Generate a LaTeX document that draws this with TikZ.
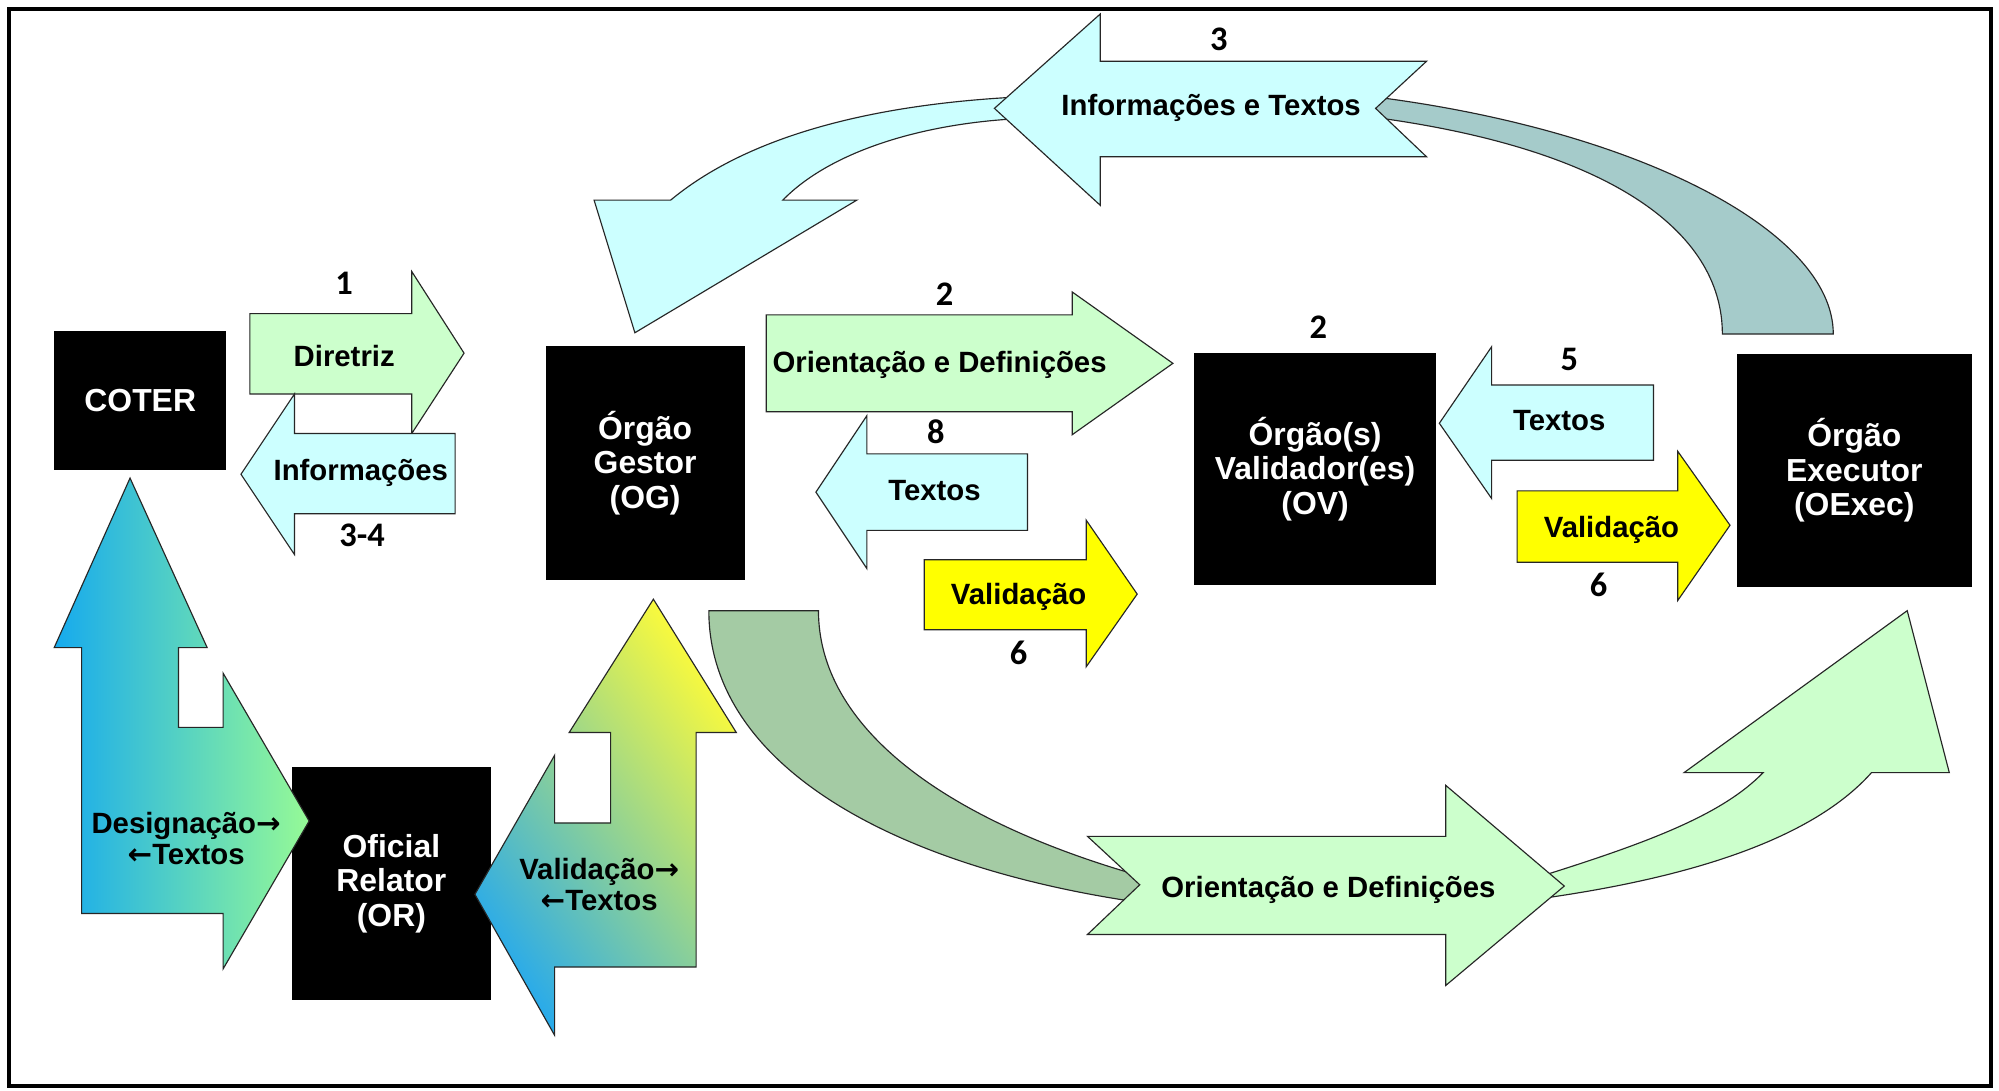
\documentclass[tikz,border=0pt]{standalone}
\usepackage{fontspec}
\setmainfont{Liberation Sans}
\newfontfamily\numfont{Carlito}
\newfontfamily\arrfont{DejaVu Sans}
\newcommand{\rarr}{{\arrfont\bfseries →}}
\newcommand{\larr}{{\arrfont\bfseries ←}}
\definecolor{lgreen}{HTML}{CCFFCC}
\definecolor{lcyan}{HTML}{CCFFFF}
\definecolor{yel}{HTML}{FFFF00}
\definecolor{tealband}{RGB}{165,203,202}
\definecolor{dgreen}{RGB}{164,203,164}
\definecolor{gblue}{RGB}{22,170,238}
\definecolor{ggreen}{RGB}{150,250,150}
\definecolor{vblue}{RGB}{40,170,235}
\definecolor{vyel}{RGB}{250,250,60}
\begin{document}
\begin{tikzpicture}[x=1pt,y=-1pt,
  every node/.style={inner sep=0pt, outer sep=0pt},
  blk/.style={fill=black, text=white, font=\bfseries\fontsize{25}{27}\selectfont, align=center},
  lbl/.style={font=\bfseries\fontsize{23}{24.5}\selectfont, align=center, text=black},
  num/.style={font=\numfont\bfseries\fontsize{27}{27}\selectfont},
  shp/.style={draw=black!85, line width=0.9pt, line join=miter}]
\useasboundingbox (0,0) rectangle (1568,855);
\fill[white] (0,0) rectangle (1568,855);

% ---------- black boxes ----------
\node[blk, minimum width=135pt, minimum height=109pt] (coter) at (110,314) {COTER};
\node[blk, minimum width=156pt, minimum height=184pt] (og) at (506,363) {Órgão\\Gestor\\(OG)};
\node[blk, minimum width=190pt, minimum height=182pt] (ov) at (1031.5,368) {Órgão(s)\\Validador(es)\\(OV)};
\node[blk, minimum width=184pt, minimum height=183pt] (oe) at (1454.5,369) {Órgão\\Executor\\(OExec)};
\node[blk, minimum width=156pt, minimum height=183pt] (or) at (307,693) {Oficial\\Relator\\(OR)};

% ---------- top curved arrow (3) ----------
\filldraw[shp, fill=lcyan] (526,157) .. controls (585,108) and (680,82) .. (800,76)
  -- (800,93) .. controls (720,97) and (650,120) .. (614,157)
  -- (672,157) -- (498,261) -- (466,157) -- cycle;
\filldraw[shp, fill=tealband] (1070,75) .. controls (1280,100) and (1438,180) .. (1438,262)
  -- (1351,262) .. controls (1351,180) and (1260,115) .. (1070,91) -- cycle;
\filldraw[shp, fill=lcyan] (780,85) -- (863,11) -- (863,48) -- (1119,48) -- (1079,85)
  -- (1119,123) -- (863,123) -- (863,161) -- cycle;
\node[lbl] (t3) at (950,85) {Informações e Textos};
\node[num] (n3) at (956,31) {3};

% ---------- bottom curved arrow ----------
\filldraw[shp, fill=dgreen] (556,479) -- (642,479)
  .. controls (642,570) and (740,645) .. (905,690)
  -- (895,708) .. controls (700,680) and (556,600) .. (556,479) -- cycle;
\filldraw[shp, fill=lgreen] (1200,690) .. controls (1290,662) and (1350,640) .. (1383,606)
  -- (1321,606) -- (1496,479) -- (1529,606) -- (1468,606)
  .. controls (1420,660) and (1320,690) .. (1200,706) -- cycle;
\filldraw[shp, fill=lgreen] (853,656) -- (1134,656) -- (1134,616) -- (1227,695)
  -- (1134,773) -- (1134,733) -- (853,733) -- (894,694) -- cycle;
\node[lbl] (tb) at (1042,698) {Orientação e Definições};

% ---------- COTER arrows ----------
\filldraw[shp, fill=lgreen] (196,246) -- (323,246) -- (323,213) -- (364,277)
  -- (323,340) -- (323,309) -- (196,309) -- cycle;
\filldraw[shp, fill=lcyan] (357,340) -- (231,340) -- (231,309) -- (189,372)
  -- (231,435) -- (231,403) -- (357,403) -- cycle;
\node[lbl] (tdir) at (270,279) {Diretriz};
\node[lbl] (tinf) at (283,371) {Informações};
\node[num] (n1) at (270,222) {1};
\node[num] (n34) at (284,420) {3-4};

% ---------- OG <-> OV arrows ----------
\filldraw[shp, fill=lgreen] (601,247) -- (841,247) -- (841,229) -- (920,285)
  -- (841,341) -- (841,323) -- (601,323) -- cycle;
\node[lbl] (tori) at (737,286) {Orientação e Definições};
\node[num] (n2a) at (741,231) {2};
\filldraw[shp, fill=lcyan] (806,356) -- (680,356) -- (680,326) -- (640,386)
  -- (680,446) -- (680,416) -- (806,416) -- cycle;
\node[lbl] (ttx8) at (733,385) {Textos};
\node[num] (n8) at (734,339) {8};
\filldraw[shp, fill=yel] (725,439) -- (852,439) -- (852,408) -- (892,466)
  -- (852,523) -- (852,494) -- (725,494) -- cycle;
\node[lbl] (tval6a) at (799,468) {Validação};
\node[num] (n6a) at (799,512) {6};
\node[num] (n2b) at (1034,257) {2};

% ---------- OV <-> OExec arrows ----------
\filldraw[shp, fill=lcyan] (1297,302) -- (1170,302) -- (1170,272) -- (1129,332)
  -- (1170,391) -- (1170,361) -- (1297,361) -- cycle;
\node[lbl] (ttx5) at (1223,330) {Textos};
\node[num] (n5) at (1231,282) {5};
\filldraw[shp, fill=yel] (1190,385) -- (1316,385) -- (1316,354) -- (1357,412)
  -- (1316,471) -- (1316,441) -- (1190,441) -- cycle;
\node[lbl] (tval6b) at (1264,416) {Validação};
\node[num] (n6b) at (1254,459) {6};

% ---------- gradient arrows ----------
\shadedraw[shp, left color=gblue, right color=ggreen]
  (102,375) -- (162.5,508) -- (140,508) -- (140,570.5) -- (175,570.5) -- (175,528)
  -- (242.5,644) -- (175,760) -- (175,716.5) -- (64,716.5) -- (64,508) -- (42.5,508) -- cycle;
\node[lbl] (tdes) at (146,658) {Designação\rarr\\\larr Textos};
\shadedraw[shp, top color=vyel, bottom color=vblue, shading angle=-55]
  (512.5,470) -- (577.5,574.5) -- (546,574.5) -- (546,758.5) -- (435,758.5) -- (435,812)
  -- (372.5,701.5) -- (435,592.5) -- (435,645.5) -- (479,645.5) -- (479,574.5)
  -- (446.5,574.5) -- cycle;
\node[lbl] (tval) at (470,694) {Validação\rarr\\\larr Textos};

% ---------- frame ----------
\draw[line width=3pt] (7,7) rectangle (1562,852);
\end{tikzpicture}
\end{document}
